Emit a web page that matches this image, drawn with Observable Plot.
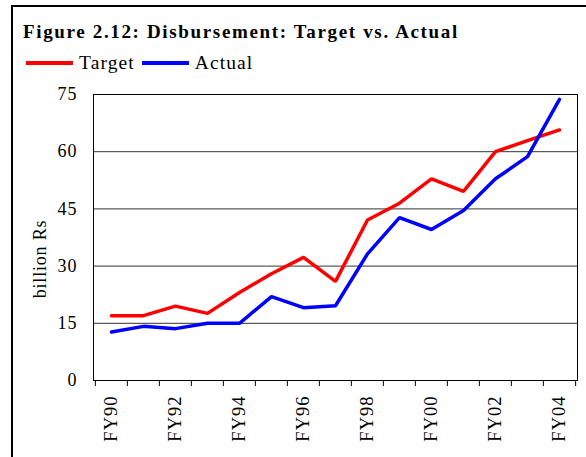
<!DOCTYPE html>
<html>
<head>
<meta charset="utf-8">
<script src="https://cdn.jsdelivr.net/npm/d3@7"></script>
<script src="https://cdn.jsdelivr.net/npm/@observablehq/plot@0.6"></script>
<style>
  html, body { margin: 0; padding: 0; background: #fff; }
  body { width: 586px; height: 457px; position: relative; overflow: hidden; font-family: "Liberation Serif", "Times New Roman", serif; }
  #border { position: absolute; left: 11px; top: 5px; width: 700px; height: 600px; border-top: 2px solid #000; border-left: 2px solid #000; }
  #title { position: absolute; left: 23px; top: 22px; font-size: 19px; line-height: 19px; font-weight: bold; letter-spacing: 1.65px; white-space: nowrap; }
  #legend { position: absolute; left: 26px; top: 53px; font-size: 19.5px; line-height: 20px; letter-spacing: 1.1px; white-space: nowrap; display: flex; align-items: center; }
  .sw { display: inline-block; width: 47px; height: 3.5px; margin-right: 6px; }
  .lab { margin-right: 7px; }
  #ylabel { position: absolute; left: 40px; top: 259px; transform: translate(-50%, -50%) rotate(-90deg); font-size: 18px; letter-spacing: 0.8px; white-space: nowrap; }
  #chart { position: absolute; left: 0; top: 80px; }
  #chart svg text { letter-spacing: 1px; }
</style>
</head>
<body>
<div id="border"></div>
<div id="title">Figure 2.12: Disbursement: Target vs. Actual</div>
<div id="legend"></div>
<div id="ylabel">billion Rs</div>
<div id="chart"></div>
<script>
const years = ["FY90","FY91","FY92","FY93","FY94","FY95","FY96","FY97","FY98","FY99","FY00","FY01","FY02","FY03","FY04"];
const target = [17.0, 17.0, 19.5, 17.6, 23.1, 28.0, 32.3, 26.0, 42.1, 46.5, 52.9, 49.6, 60.0, 62.9, 65.7];
const actual = [12.7, 14.2, 13.6, 15.0, 15.0, 22.0, 19.1, 19.6, 33.2, 42.7, 39.6, 44.6, 52.9, 58.7, 73.7];
const seriesNames = ["Target", "Actual"];
const seriesColors = ["#ff0000", "#0000ff"];
const yTicks = [0, 15, 30, 45, 60, 75];
const xLabelTicks = ["FY90","FY92","FY94","FY96","FY98","FY00","FY02","FY04"];

const data = [
  ...years.map((y, i) => ({year: y, value: target[i], series: "Target"})),
  ...years.map((y, i) => ({year: y, value: actual[i], series: "Actual"}))
];

// legend
const legend = document.getElementById("legend");
seriesNames.forEach((s, i) => {
  const sw = document.createElement("span");
  sw.className = "sw"; sw.style.background = seriesColors[i];
  const t = document.createElement("span");
  t.className = "lab"; t.textContent = s;
  legend.appendChild(sw); legend.appendChild(t);
});

const W = 586, H = 377;
const mL = 93, mR = 9, mT = 14, mB = 77;
const bw = (W - mL - mR) / years.length;

const chart = Plot.plot({
  width: W, height: H,
  marginLeft: mL, marginRight: mR, marginTop: mT, marginBottom: mB,
  style: {fontFamily: "'Liberation Serif', 'Times New Roman', serif", fontSize: "18px", color: "#000", background: "transparent"},
  x: {type: "band", domain: years, padding: 0, axis: null},
  y: {domain: [0, 75], axis: null},
  color: {domain: seriesNames, range: seriesColors},
  marks: [
    Plot.gridY(yTicks.slice(1, -1), {stroke: "#333", strokeOpacity: 1, strokeWidth: 1}),
    Plot.axisY(yTicks, {tickSize: 0, tickPadding: 16, label: null, fontSize: 18}),
    Plot.axisX(years, {tickSize: 6, tickFormat: () => "", dx: -bw / 2, label: null}),
    Plot.axisX([years[years.length - 1]], {tickSize: 6, tickFormat: () => "", dx: bw / 2, label: null}),
    Plot.axisX(xLabelTicks, {tickSize: 0, tickPadding: 15, tickRotate: -90, label: null, fontSize: 18.5}),
    Plot.line(data, {x: "year", y: "value", stroke: "series", strokeWidth: 3.5, strokeLinejoin: "miter", strokeLinecap: "round"}),
    Plot.frame({stroke: "#000", strokeWidth: 1})
  ]
});
document.getElementById("chart").appendChild(chart);
</script>
</body>
</html>
